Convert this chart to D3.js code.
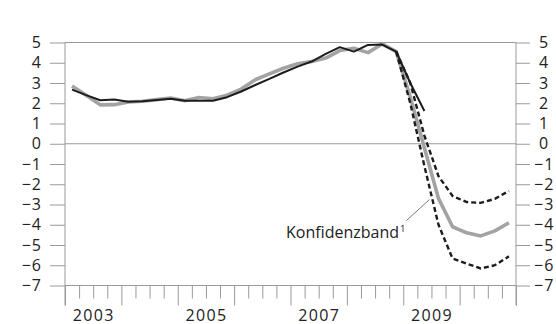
<!DOCTYPE html>
<html>
<head>
<meta charset="utf-8">
<script src="https://cdn.jsdelivr.net/npm/d3@7"></script>
<style>
  html, body { margin: 0; padding: 0; background: #fff; }
  svg { display: block; }
  text { font-family: "Open Sans", "Noto Sans", sans-serif; fill: #222; }
</style>
</head>
<body>
<svg id="chart" width="556" height="324"></svg>
<script>
// ---- data (quarterly, 2003Q1 .. 2010Q4) ----
const years = [2003, 2004, 2005, 2006, 2007, 2008, 2009, 2010];
const quarters = years.flatMap(y => [1, 2, 3, 4].map(q => y + "Q" + q));
const yearLabels = ["2003", "2005", "2007", "2009"];
const yTicks = [-7, -6, -5, -4, -3, -2, -1, 0, 1, 2, 3, 4, 5];

// grey line (all quarters)
const greyValues = [2.85, 2.4, 1.92, 1.93, 2.06, 2.1, 2.18, 2.26, 2.12, 2.28, 2.22, 2.4,
  2.7, 3.16, 3.45, 3.73, 3.95, 4.06, 4.23, 4.6, 4.72, 4.5, 4.93, 4.55,
  2.3, -0.2, -2.7, -4.1, -4.4, -4.55, -4.3, -3.9];
// black line (2003Q1 .. 2009Q2)
const blackValues = [2.67, 2.4, 2.15, 2.18, 2.07, 2.1, 2.16, 2.22, 2.12, 2.12, 2.12, 2.3,
  2.58, 2.9, 3.2, 3.52, 3.81, 4.06, 4.44, 4.77, 4.55, 4.88, 4.9, 4.55, 3.0, 1.62];
// confidence band (2008Q4 .. 2010Q4)
const bandStart = 23;
const upperValues = [4.55, 3.0, 0.4, -1.6, -2.58, -2.88, -2.92, -2.72, -2.33];
const lowerValues = [4.55, 2.0, -1.1, -4.0, -5.67, -5.92, -6.16, -6.0, -5.56];
const bandLabel = "Konfidenzband";
const bandNote = "1";

// ---- layout ----
const svg = d3.select("#chart");
const mLeft = 65, mRight = 516, mTop = 42.5, mBottom = 285.5;
const axisColor = "#9a9a9a";
const tickFont = 16;

const x = d3.scaleLinear().domain([0, quarters.length]).range([mLeft, mRight]);
const y = d3.scaleLinear().domain([-7, 5]).range([mBottom, mTop]);
const xc = i => x(i + 0.5);

// horizontal lines at top, zero, bottom
[5, 0, -7].forEach(v => {
  svg.append("line").attr("x1", mLeft).attr("x2", mRight)
    .attr("y1", y(v)).attr("y2", y(v))
    .attr("stroke", axisColor).attr("stroke-width", 1);
});

const fmt = d => d < 0 ? "\u2212" + Math.abs(d) : String(d);

// left axis
const gl = svg.append("g").attr("transform", `translate(${mLeft},0)`)
  .call(d3.axisLeft(y).tickValues(yTicks).tickSize(15).tickPadding(8).tickFormat(fmt));
// right axis
const gr = svg.append("g").attr("transform", `translate(${mRight},0)`)
  .call(d3.axisRight(y).tickValues(yTicks).tickSize(14).tickPadding(7).tickFormat(fmt));
[gl, gr].forEach(g => {
  g.select(".domain").remove();
  g.selectAll(".tick line").attr("stroke", axisColor).attr("stroke-width", 1);
  g.selectAll(".tick text").attr("font-size", tickFont).attr("fill", "#222")
    .attr("letter-spacing", 1)
    .style("font-family", '"Open Sans", "Noto Sans", sans-serif');
});
gr.selectAll(".tick text").attr("x", d => d < 0 ? 18 : 23);

// vertical axis lines
[mLeft, mRight].forEach(xx => {
  svg.append("line").attr("x1", xx).attr("x2", xx)
    .attr("y1", mTop).attr("y2", mBottom + 20)
    .attr("stroke", axisColor).attr("stroke-width", 1);
});

// x ticks: quarters (short) and years (long)
const qTicks = d3.range(0, quarters.length + 1);
const gb = svg.append("g").attr("transform", `translate(0,${mBottom})`)
  .call(d3.axisBottom(x).tickValues(qTicks.filter(i => i % 4 !== 0)).tickSize(13).tickFormat(""));
gb.select(".domain").remove();
gb.selectAll(".tick line").attr("stroke", axisColor);
const gb2 = svg.append("g").attr("transform", `translate(0,${mBottom})`)
  .call(d3.axisBottom(x).tickValues(qTicks.filter(i => i % 4 === 0)).tickSize(20).tickFormat(""));
gb2.select(".domain").remove();
gb2.selectAll(".tick line").attr("stroke", axisColor);

// year labels centred in year
svg.append("g").selectAll("text").data(yearLabels).join("text")
  .attr("x", d => x((+d - years[0]) * 4 + 2) + 0.5)
  .attr("y", 320.5)
  .attr("text-anchor", "middle")
  .attr("font-size", tickFont)
  .attr("letter-spacing", 1.3)
  .text(d => d);

// ---- lines ----
const line = d3.line().x(d => xc(d[0])).y(d => y(d[1]));

svg.append("path")
  .datum(greyValues.map((v, i) => [i, v]))
  .attr("d", line).attr("fill", "none")
  .attr("stroke", "#a3a3a3").attr("stroke-width", 3.6).attr("stroke-linejoin", "round");

svg.append("path")
  .datum(blackValues.map((v, i) => [i, v]))
  .attr("d", line).attr("fill", "none")
  .attr("stroke", "#1c1c1c").attr("stroke-width", 2).attr("stroke-linejoin", "round");

[upperValues, lowerValues].forEach(arr => {
  svg.append("path")
    .datum(arr.map((v, i) => [bandStart + i, v]))
    .attr("d", line).attr("fill", "none")
    .attr("stroke", "#1c1c1c").attr("stroke-width", 2.4)
    .attr("stroke-dasharray", "5,3");
});

// label with leader line
svg.append("line")
  .attr("x1", 406.5).attr("y1", 220.5)
  .attr("x2", 429.5).attr("y2", 199.5)
  .attr("stroke", "#555").attr("stroke-width", 0.8);
const t = svg.append("text").attr("x", 286).attr("y", 238).attr("font-size", 16);
t.append("tspan").text(bandLabel);
t.append("tspan").attr("dx", 1).attr("dy", -6).attr("font-size", 9.5).text(bandNote);
</script>
</body>
</html>
